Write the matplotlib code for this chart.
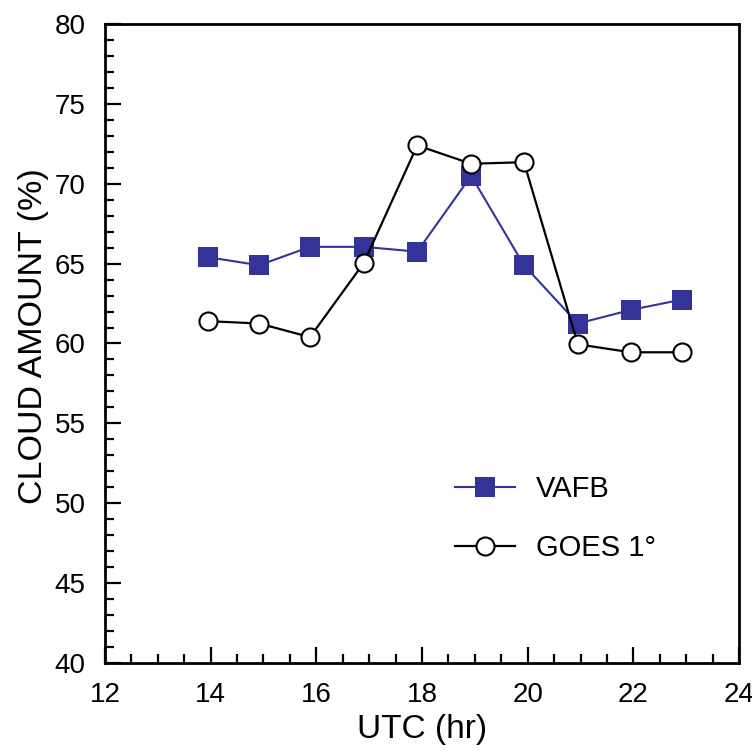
import numpy as np
import matplotlib
matplotlib.use("Agg")
import matplotlib.pyplot as plt
from matplotlib.ticker import MultipleLocator

# data
utc_hr = [13.95, 14.92, 15.88, 16.9, 17.91, 18.93, 19.93, 20.95, 21.95, 22.92]
vafb = [65.4, 64.9, 66.05, 66.05, 65.75, 70.5, 64.9, 61.25, 62.1, 62.75]
goes = [61.4, 61.25, 60.4, 65.05, 72.4, 71.25, 71.35, 59.95, 59.45, 59.45]

series_names = ["VAFB", "GOES 1\u00b0"]

plt.rcParams['font.family'] = ['Liberation Sans', 'DejaVu Sans']

fig = plt.figure(figsize=(7.52, 7.56), dpi=100)
ax = fig.add_axes([105/752, 1 - 663/756, 634/752, 639/756])

ax.plot(utc_hr, vafb, color='#333399', lw=1.5, marker='s', ms=13.7,
        mfc='#333399', mec='#333399', mew=0, label=series_names[0])
ax.plot(utc_hr, goes, color='black', lw=1.6, marker='o', ms=13,
        mfc='white', mec='black', mew=1.5, label=series_names[1])

ax.set_xlim(12, 24)
ax.set_ylim(40, 80)
ax.xaxis.set_major_locator(MultipleLocator(2))
ax.xaxis.set_minor_locator(MultipleLocator(0.5))
ax.yaxis.set_major_locator(MultipleLocator(5))
ax.yaxis.set_minor_locator(MultipleLocator(1))

for s in ax.spines.values():
    s.set_linewidth(2)

ax.tick_params(which='both', direction='in', top=False, right=False, width=1.6)
ax.tick_params(which='major', length=11.5, labelsize=20, pad=14)
ax.tick_params(which='minor', length=6.5)

ax.set_xlabel('UTC (hr)', fontsize=24, labelpad=4)
ax.set_ylabel('CLOUD AMOUNT (%)', fontsize=24.5, labelpad=4)
ax.yaxis.label.set_y(0.511)

ax.legend(loc='upper left', bbox_to_anchor=(0.552, 0.294), frameon=False,
          fontsize=21, handlelength=2.05, handletextpad=0.72,
          labelspacing=1.05, borderpad=0, borderaxespad=0)

fig.savefig('out.png', dpi=100)
